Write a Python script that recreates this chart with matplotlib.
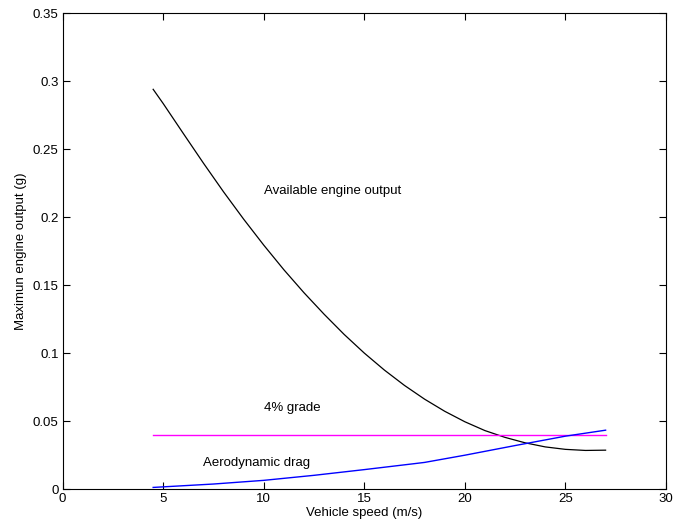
import matplotlib
matplotlib.use("Agg")
import matplotlib.pyplot as plt
from matplotlib.ticker import FuncFormatter

plt.rcParams['font.family'] = ['Liberation Sans', 'DejaVu Sans']

# Available engine output (g) vs vehicle speed (m/s)
engine_speed = [4.5, 5, 6, 7, 8, 9, 10, 11, 12, 13, 14, 15, 16, 17, 18, 19,
                20, 21, 22, 23, 24, 25, 26, 27]
engine_output = [0.294, 0.2835, 0.2615, 0.2397, 0.2186, 0.1985, 0.1794, 0.1613,
                 0.1444, 0.1286, 0.1137, 0.1000, 0.0875, 0.0762, 0.0661, 0.0572,
                 0.0495, 0.0430, 0.0380, 0.0340, 0.0310, 0.0292, 0.0284, 0.0286]

# Grade resistance at 4%
grade_speed = [4.5, 27.0]
grade_force = [0.04, 0.04]

# Aerodynamic drag
drag_speed = [4.5, 7.5, 10.0, 12.5, 15.0, 17.5, 18.0, 20.0, 22.5, 25.0, 27.0]
drag_force = [0.0012, 0.0037, 0.0064, 0.0101, 0.0143, 0.0187, 0.0196,
              0.0249, 0.0320, 0.0389, 0.0433]

x_ticks = [0, 5, 10, 15, 20, 25, 30]
y_ticks = [0, 0.05, 0.1, 0.15, 0.2, 0.25, 0.3, 0.35]

fig = plt.figure(figsize=(6.74, 5.27), dpi=100)
ax = fig.add_axes([0.093, 0.072, 0.895, 0.903])

lw = 0.9
ax.plot(engine_speed, engine_output, color='black', lw=lw)
ax.plot(grade_speed, grade_force, color='#ff00ff', lw=1.0)
ax.plot(drag_speed, drag_force, color='#0000ff', lw=1.0)

fs = 9.5
ax.text(10.0, 0.219, 'Available engine output', fontsize=fs, va='center', ha='left')
ax.text(10.0, 0.0593, '4% grade', fontsize=fs, va='center', ha='left')
ax.text(7.0, 0.0194, 'Aerodynamic drag', fontsize=fs, va='center', ha='left')

ax.set_xlim(0, 30)
ax.set_ylim(0, 0.35)
ax.set_xticks(x_ticks)
ax.set_yticks(y_ticks)
ax.yaxis.set_major_formatter(FuncFormatter(lambda v, p: '%g' % v))
ax.xaxis.set_major_formatter(FuncFormatter(lambda v, p: '%g' % v))
ax.tick_params(direction='in', top=True, right=True, length=5, width=0.8,
               labelsize=fs, pad=3)
for s in ax.spines.values():
    s.set_linewidth(0.8)

ax.set_xlabel('Vehicle speed (m/s)', fontsize=fs, labelpad=1)
ax.set_ylabel('Maximun engine output (g)', fontsize=fs, labelpad=4)

fig.savefig('out.png', dpi=100)
